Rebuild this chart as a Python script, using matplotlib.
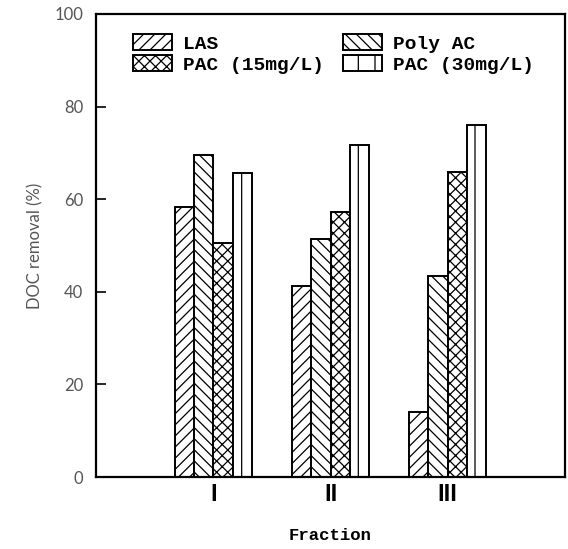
import matplotlib
matplotlib.use('Agg')
import matplotlib.pyplot as plt
import numpy as np

# ---- data ----
fractions = ['I', 'II', 'III']
series = ['LAS', 'Poly AC', 'PAC (15mg/L)', 'PAC (30mg/L)']
las = [58.4, 41.3, 14.1]
poly_ac = [69.5, 51.5, 43.5]
pac15 = [50.6, 57.3, 65.9]
pac30 = [65.6, 71.7, 76.0]
yticks = [0, 20, 40, 60, 80, 100]

hatches = ['///', '\\\\\\', 'xxx', '|']

plt.rcParams['hatch.linewidth'] = 0.9
plt.rcParams['hatch.color'] = 'black'

W, H = 568, 549
fig = plt.figure(figsize=(W / 100, H / 100), dpi=100)
left, right, top, bottom = 96, 565, 14, 477
ax = fig.add_axes([left / W, 1 - bottom / H, (right - left) / W, (bottom - top) / H])

x = np.arange(1, len(fractions) + 1)
w = 0.165
offsets = [-1.5, -0.5, 0.5, 1.5]
bars = []
for vals, off, h, lab in zip([las, poly_ac, pac15, pac30], offsets, hatches, series):
    b = ax.bar(x + off * w, vals, w, color='white', edgecolor='black',
               hatch=h, linewidth=1.4, label=lab)
    bars.append(b)

ax.set_xlim(0, 4)
ax.set_ylim(0, 100)
ax.set_yticks(yticks)
ax.set_yticklabels([str(v) for v in yticks], fontsize=12, color='#555555',
                   family=['Lato', 'DejaVu Sans'])
ax.set_xticks(x)
ax.set_xticklabels(fractions, fontsize=17, fontweight='bold',
                   family=['Liberation Sans', 'DejaVu Sans'])
ax.tick_params(axis='y', direction='in', length=7, width=1.2, pad=9)
ax.tick_params(axis='x', length=0, pad=4)
for s in ax.spines.values():
    s.set_linewidth(1.6)

ax.set_ylabel('DOC removal (%)', fontsize=12, color='#555555',
              family=['Lato', 'DejaVu Sans'], labelpad=8)
ax.set_xlabel('Fraction', fontsize=12.5, fontweight='bold',
              family=['Liberation Mono', 'DejaVu Sans Mono'], labelpad=16)

order = [0, 2, 1, 3]
leg = ax.legend([bars[i] for i in order], [series[i] for i in order], ncol=2,
                loc='upper left', bbox_to_anchor=(0.079, 0.956), frameon=False,
                prop={'family': ['Liberation Mono', 'DejaVu Sans Mono'], 'size': 14,
                      'weight': 'bold'},
                handlelength=2.0, handleheight=0.88, handletextpad=0.57,
                columnspacing=1.0, labelspacing=0.1, borderpad=0, borderaxespad=0)

fig.savefig('out.png', dpi=100)
